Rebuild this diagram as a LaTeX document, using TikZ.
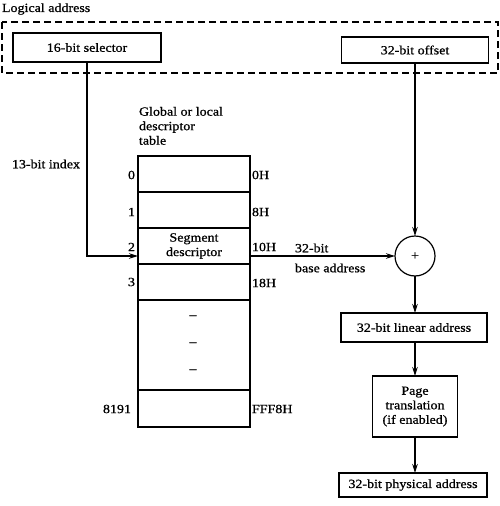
\documentclass[tikz,border=0pt]{standalone}
\usepackage{fontspec}
\setmainfont{Liberation Serif}[FakeStretch=1.12,FakeBold=0.8]
\usetikzlibrary{arrows.meta}
\tikzset{
  every node/.style={font=\fontsize{12.5}{14.5}\selectfont, inner sep=0pt, outer sep=0pt},
  box/.style={draw, line width=1.2pt, rectangle, align=center},
  row/.style={draw, line width=1.2pt, rectangle, minimum width=112pt},
  conn/.style={line width=2pt, -{Stealth[length=9pt,width=5.5pt]}},
  lbl/.style={align=left},
}
\begin{document}
\begin{tikzpicture}[x=1pt,y=-1pt]
\useasboundingbox (0,0) rectangle (500,506);
% logical address group
\node[anchor=west] (logical) at (2,9) {Logical address};
\draw[line width=1.2pt, dash pattern=on 7pt off 4pt] (2,22) rectangle (498,73);
\node[box, minimum width=148pt, minimum height=29pt] (sel) at (87,47.5) {16-bit selector};
\node[box, minimum width=147pt, minimum height=26pt] (off) at (415,50) {32-bit offset};
% table title
\node[lbl, anchor=north west] (title) at (139,107) {Global or local\\descriptor\\table};
% table rows
\node[row, minimum height=36pt] (r0) at (194,174) {};
\node[row, minimum height=36pt] (r1) at (194,210) {};
\node[row, minimum height=36pt, align=center] (r2) at (194,246) {Segment\\descriptor};
\node[row, minimum height=36pt] (r3) at (194,282) {};
\node[row, minimum height=90pt] (rd) at (194,345) {};
\node[row, minimum height=37pt] (rl) at (194,408.5) {};
\node (d1) at (193,317) {–};
\node (d2) at (193,344) {–};
\node (d3) at (193,371) {–};
% index labels
\node[anchor=east] (i0) at (135,175) {0};
\node[anchor=east] (i1) at (135,212) {1};
\node[anchor=east] (i2) at (135,247) {2};
\node[anchor=east] (i3) at (135,282) {3};
\node[anchor=east] (il) at (131,409) {8191};
% offset labels
\node[anchor=west] (o0) at (252,175) {0H};
\node[anchor=west] (o1) at (252,212) {8H};
\node[anchor=west] (o2) at (252,247) {10H};
\node[anchor=west] (o3) at (252,283) {18H};
\node[anchor=west] (ol) at (252,409) {FFF8H};
% index text
\node (idx) at (46,164) {13-bit index};
% adder
\node[draw, circle, line width=1.2pt, minimum size=40pt] (add) at (415,256) {+};
\node[anchor=west] (b1) at (295,248) {32-bit};
\node[anchor=west] (b2) at (295,268) {base address};
% right chain
\node[box, minimum width=146pt, minimum height=29pt] (lin) at (414,327.5) {32-bit linear address};
\node[box, minimum width=85pt, minimum height=61pt] (page) at (415,406.5) {Page\\translation\\(if enabled)};
\node[box, minimum width=148pt, minimum height=24pt] (phys) at (413,485) {32-bit physical address};
% connectors
\coordinate (tin) at ([yshift=-10pt]r2.west);
\coordinate (tout) at ([yshift=-10pt]r2.east);
\draw[conn] (sel.south) |- (tin);
\draw[conn] (tout) -- (add.west);
\draw[conn] (off.south) -- (add.north);
\draw[conn] (add.south) -- (lin.north -| add.south);
\draw[conn] (lin.south -| page.north) -- (page.north);
\draw[conn] (page.south) -- (phys.north -| page.south);
\end{tikzpicture}
\end{document}
